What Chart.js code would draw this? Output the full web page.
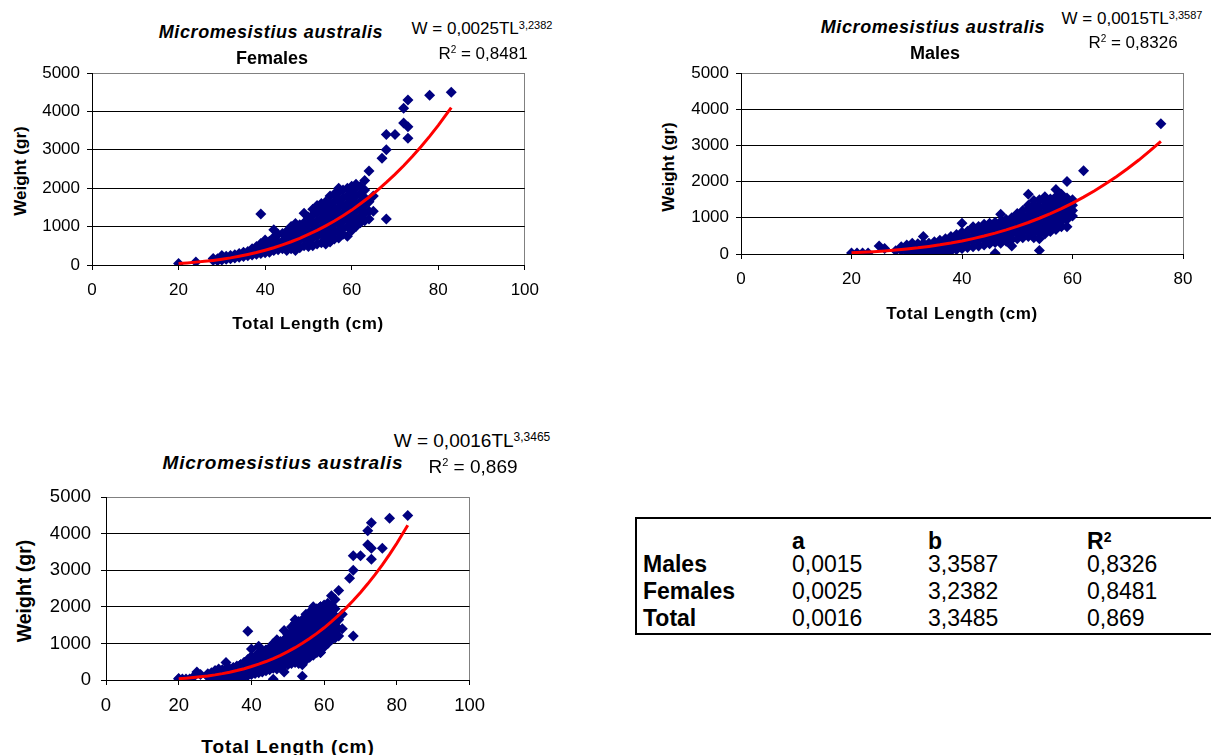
<!DOCTYPE html>
<html>
<head>
<meta charset="utf-8">
<script src="https://cdn.jsdelivr.net/npm/chart.js@4.4.1/dist/chart.umd.min.js"></script>
<style>
  body { margin: 0; width: 1211px; height: 755px; overflow: hidden; background: #fff; position: relative;
         font-family: 'Liberation Sans', Arial, sans-serif; color: #000; }
  canvas { position: absolute; }
  .lbl { position: absolute; transform: translate(-50%, -50%); white-space: nowrap; line-height: 1; }
  .yt { transform: translate(-50%, -50%) rotate(-90deg); font-weight: bold; }
  .b { font-weight: bold; }
  .bi { font-weight: bold; font-style: italic; }
  .sup { vertical-align: top; line-height: 1; }
  #coef { position: absolute; left: 635px; top: 517px; width: 600px; height: 118px; box-sizing: border-box;
          border: 2px solid #000; border-right: none; }
  .cell { position: absolute; transform: translateY(-50%); line-height: 1; font-size: 23px; white-space: nowrap; }
</style>
</head>
<body>

<!-- Females -->
<canvas id="females"></canvas>
<div class="lbl bi" style="left:271px;top:32px;font-size:18px;letter-spacing:0.6px">Micromesistius australis</div>
<div class="lbl b" style="left:272px;top:58px;font-size:18px">Females</div>
<div class="lbl" style="left:482px;top:28px;font-size:17px">W = 0,0025TL<span class="sup" style="font-size:11px">3,2382</span></div>
<div class="lbl" style="left:483px;top:53px;font-size:17px">R<span class="sup" style="font-size:10px">2</span> = 0,8481</div>
<div class="lbl yt" style="left:20px;top:171px;font-size:17px">Weight (gr)</div>
<div class="lbl b" style="left:308px;top:323px;font-size:17px;letter-spacing:0.6px">Total Length (cm)</div>

<!-- Males -->
<canvas id="males"></canvas>
<div class="lbl bi" style="left:933px;top:27px;font-size:18px;letter-spacing:0.6px">Micromesistius australis</div>
<div class="lbl b" style="left:935px;top:53px;font-size:18px">Males</div>
<div class="lbl" style="left:1132px;top:18px;font-size:17px">W = 0,0015TL<span class="sup" style="font-size:11px">3,3587</span></div>
<div class="lbl" style="left:1133px;top:42px;font-size:17px">R<span class="sup" style="font-size:10px">2</span> = 0,8326</div>
<div class="lbl yt" style="left:668px;top:167px;font-size:17px">Weight (gr)</div>
<div class="lbl b" style="left:962px;top:313px;font-size:17px;letter-spacing:0.6px">Total Length (cm)</div>

<!-- Both sexes -->
<canvas id="total"></canvas>
<div class="lbl bi" style="left:283px;top:462px;font-size:19px;letter-spacing:0.8px">Micromesistius australis</div>
<div class="lbl" style="left:472px;top:440px;font-size:19px">W = 0,0016TL<span class="sup" style="font-size:12px">3,3465</span></div>
<div class="lbl" style="left:473px;top:466px;font-size:19px">R<span class="sup" style="font-size:11px">2</span> = 0,869</div>
<div class="lbl yt" style="left:25px;top:591px;font-size:19.5px">Weight (gr)</div>
<div class="lbl b" style="left:288px;top:746px;font-size:19px;letter-spacing:0.9px">Total Length (cm)</div>

<div id="coef"></div>

<script>
// length (cm), weight (g)
const femalePoints = [
  [20, 40], [24, 80],
  [28, 120], [28, 170], [29, 110], [29, 160],
  [30, 130], [30, 200], [30, 250], [31, 150], [31, 230],
  [32, 160], [32, 250], [33, 180], [33, 270], [34, 200], [34, 300],
  [35, 220], [35, 330], [36, 240], [36, 350], [37, 260], [37, 380], [37, 420],
  [38, 280], [38, 400], [38, 480], [39, 300], [39, 450], [39, 560], [39, 1330],
  [40, 320], [40, 420], [40, 550], [40, 650], [41, 330], [41, 480], [41, 620],
  [42, 380], [42, 550], [42, 720], [42, 920], [43, 400], [43, 600], [43, 800],
  [44, 420], [44, 620], [44, 820], [45, 380], [45, 550], [45, 750], [45, 880],
  [46, 420], [46, 620], [46, 820], [46, 1000], [47, 380], [47, 550], [47, 750], [47, 950], [47, 1080],
  [48, 450], [48, 650], [48, 850], [48, 1050], [49, 500], [49, 700], [49, 900], [49, 1100], [49, 1350],
  [50, 480], [50, 650], [50, 850], [50, 1050], [50, 1250],
  [51, 500], [51, 700], [51, 900], [51, 1100], [51, 1300], [51, 1450],
  [52, 550], [52, 750], [52, 950], [52, 1150], [52, 1350], [52, 1550],
  [53, 580], [53, 800], [53, 1000], [53, 1200], [53, 1400], [53, 1600],
  [54, 550], [54, 700], [54, 900], [54, 1100], [54, 1300], [54, 1500], [54, 1650],
  [55, 600], [55, 800], [55, 1000], [55, 1200], [55, 1400], [55, 1600], [55, 1800],
  [56, 680], [56, 850], [56, 1050], [56, 1250], [56, 1450], [56, 1650], [56, 1850],
  [57, 700], [57, 900], [57, 1100], [57, 1300], [57, 1500], [57, 1700], [57, 1900], [57, 2000],
  [58, 800], [58, 950], [58, 1150], [58, 1350], [58, 1550], [58, 1750], [58, 1950],
  [59, 750], [59, 1000], [59, 1200], [59, 1400], [59, 1600], [59, 1800], [59, 2000],
  [60, 900], [60, 1100], [60, 1300], [60, 1500], [60, 1700], [60, 1900], [60, 2050],
  [61, 1000], [61, 1200], [61, 1400], [61, 1600], [61, 1800], [61, 2000], [61, 2100],
  [62, 1100], [62, 1250], [62, 1450], [62, 1650], [62, 1850], [62, 2050],
  [63, 1150], [63, 1350], [63, 1550], [63, 1750], [63, 1950], [63, 2200],
  [64, 1200], [64, 1400], [64, 1650], [64, 2450],
  [65, 1400], [65, 1800],
  [67, 2780], [68, 1200], [68, 3000], [68, 3400], [70, 3400],
  [72, 3700], [72, 4080], [73, 3300], [73, 3600], [73, 4300],
  [78, 4420], [83, 4500]
];

const malePoints = [
  [20, 30], [21, 30], [22, 30], [23, 30],
  [25, 220], [26, 150], [28, 90],
  [29, 100], [29, 200], [30, 60], [30, 160], [30, 250],
  [31, 60], [31, 170], [31, 300], [32, 60], [32, 170], [32, 280],
  [33, 60], [33, 180], [33, 300], [33, 480], [34, 60], [34, 180], [34, 300],
  [35, 60], [35, 200], [35, 340], [36, 60], [36, 200], [36, 340], [36, 380],
  [37, 60], [37, 200], [37, 330], [37, 420], [38, 80], [38, 220], [38, 360], [38, 480],
  [39, 120], [39, 260], [39, 400], [39, 540],
  [40, 150], [40, 300], [40, 450], [40, 600], [40, 850],
  [41, 180], [41, 330], [41, 480], [41, 630],
  [42, 200], [42, 350], [42, 500], [42, 650], [42, 750],
  [43, 220], [43, 380], [43, 530], [43, 680], [43, 760],
  [44, 250], [44, 400], [44, 550], [44, 700], [44, 820],
  [45, 280], [45, 430], [45, 580], [45, 730], [45, 850],
  [46, 20], [46, 320], [46, 470], [46, 620], [46, 770], [46, 880],
  [47, 300], [47, 450], [47, 600], [47, 750], [47, 900], [47, 1100],
  [48, 350], [48, 500], [48, 650], [48, 800], [48, 950],
  [49, 220], [49, 400], [49, 550], [49, 700], [49, 850], [49, 1000],
  [50, 420], [50, 570], [50, 720], [50, 870], [50, 1020], [50, 1120],
  [51, 450], [51, 600], [51, 750], [51, 900], [51, 1050], [51, 1200],
  [52, 480], [52, 630], [52, 780], [52, 930], [52, 1080], [52, 1230], [52, 1350], [52, 1650],
  [53, 450], [53, 600], [53, 750], [53, 900], [53, 1050], [53, 1200], [53, 1350], [53, 1480],
  [54, 100], [54, 420], [54, 570], [54, 720], [54, 870], [54, 1020], [54, 1170], [54, 1320], [54, 1500],
  [55, 550], [55, 700], [55, 850], [55, 1000], [55, 1150], [55, 1300], [55, 1450], [55, 1580],
  [56, 620], [56, 770], [56, 920], [56, 1070], [56, 1220], [56, 1370], [56, 1520],
  [57, 680], [57, 830], [57, 980], [57, 1130], [57, 1280], [57, 1430], [57, 1580], [57, 1780],
  [58, 750], [58, 900], [58, 1050], [58, 1200], [58, 1350], [58, 1500], [58, 1650],
  [59, 750], [59, 950], [59, 1100], [59, 1250], [59, 1400], [59, 1550], [59, 2000],
  [60, 1050], [60, 1200], [60, 1350], [60, 1500],
  [62, 2300], [76, 3600]
];

// fitted curves (red lines)
const femaleFitLength = [20, 22, 24, 26, 28, 30, 32, 34, 36, 38, 40, 42, 44, 46, 48, 50, 52, 54, 56, 58, 60, 62, 64, 66, 68, 70, 72, 74, 76, 78, 80, 83];
const femaleFitWeight = [40, 55, 75, 95, 120, 150, 185, 230, 275, 325, 385, 450, 525, 605, 695, 795, 900, 1020, 1145, 1285, 1430, 1595, 1765, 1950, 2150, 2360, 2585, 2825, 3080, 3350, 3635, 4100];

const maleFitLength = [20, 22, 24, 26, 28, 30, 32, 34, 36, 38, 40, 42, 44, 46, 48, 50, 52, 54, 56, 58, 60, 62, 64, 66, 68, 70, 72, 74, 76];
const maleFitWeight = [35, 48, 65, 85, 110, 137, 170, 210, 253, 303, 360, 425, 496, 576, 665, 762, 870, 988, 1116, 1256, 1407, 1571, 1748, 1938, 2142, 2361, 2595, 2846, 3110];

const totalFitLength = [20, 22, 24, 26, 28, 30, 32, 34, 36, 38, 40, 42, 44, 46, 48, 50, 52, 54, 56, 58, 60, 62, 64, 66, 68, 70, 72, 74, 76, 78, 80, 83];
const totalFitWeight = [36, 50, 67, 87, 111, 140, 174, 213, 258, 309, 368, 433, 505, 586, 676, 775, 884, 1003, 1133, 1274, 1427, 1593, 1771, 1965, 2171, 2392, 2629, 2880, 3149, 3435, 3739, 4230];

// coefficient table
const groups = ['Males', 'Females', 'Total'];
const coefA = [0.0015, 0.0025, 0.0016];
const coefB = [3.3587, 3.2382, 3.3485];
const coefR2 = [0.8326, 0.8481, 0.869];

const FONT = "'Liberation Sans', Arial, sans-serif";

function drawPanel(id, points, fitLength, fitWeight, xMax, area, tickSize, pad) {
  const L = 60, T = 20, R = 24, B = 50;
  const canvas = document.getElementById(id);
  canvas.width = area.right - area.left + L + R;
  canvas.height = area.bottom - area.top + T + B;
  canvas.style.left = (area.left - L) + 'px';
  canvas.style.top = (area.top - T) + 'px';

  new Chart(canvas, {
    type: 'scatter',
    data: {
      datasets: [
        {
          data: fitLength.map((x, i) => ({ x: x, y: fitWeight[i] })),
          showLine: true,
          borderColor: '#ff0000',
          borderWidth: 3,
          pointRadius: 0
        },
        {
          data: points.map(p => ({ x: p[0], y: p[1] })),
          pointStyle: 'rectRot',
          pointRadius: 5.5,
          backgroundColor: '#000080',
          borderColor: '#000080',
          borderWidth: 0
        }
      ]
    },
    options: {
      responsive: false,
      animation: false,
      events: [],
      layout: { padding: { left: 0, top: T, right: R, bottom: 0 } },
      plugins: { legend: { display: false }, tooltip: { enabled: false } },
      scales: {
        x: {
          type: 'linear',
          min: 0,
          max: xMax,
          afterFit: s => { s.height = B; },
          ticks: { stepSize: 20, padding: pad.x, color: '#000', font: { family: FONT, size: tickSize },
                   callback: v => String(v) },
          grid: {
            color: c => (c.tick && c.tick.value === xMax) ? '#808080' : 'rgba(0,0,0,0)',
            tickColor: '#000',
            tickLength: 5
          },
          border: { color: '#000', width: 1 }
        },
        y: {
          min: 0,
          max: 5000,
          afterFit: s => { s.width = L; },
          ticks: { stepSize: 1000, padding: pad.y, color: '#000', font: { family: FONT, size: tickSize },
                   callback: v => String(v) },
          grid: {
            color: c => (c.tick && c.tick.value === 5000) ? '#808080' : '#000',
            tickColor: '#000',
            tickLength: 5
          },
          border: { color: '#000', width: 1 }
        }
      }
    }
  });
}

drawPanel('females', femalePoints, femaleFitLength, femaleFitWeight, 100,
  { left: 92, top: 73, right: 525, bottom: 265 }, 17, { x: 10, y: 7 });
drawPanel('males', malePoints, maleFitLength, maleFitWeight, 80,
  { left: 741, top: 73, right: 1183, bottom: 254 }, 17, { x: 10, y: 7 });
drawPanel('total', femalePoints.concat(malePoints), totalFitLength, totalFitWeight, 100,
  { left: 106, top: 496, right: 471, bottom: 680 }, 18.5, { x: 10, y: 10 });

// table of a, b and R2
const box = document.getElementById('coef');
const colX = [6, 155, 291, 450];
const rowY = [22, 45, 72, 99];
function cell(text, col, row, bold) {
  const d = document.createElement('div');
  d.className = 'cell';
  d.style.left = colX[col] + 'px';
  d.style.top = rowY[row] + 'px';
  if (bold) d.style.fontWeight = 'bold';
  d.innerHTML = text;
  box.appendChild(d);
}
const fmt = v => String(v).replace('.', ',');
cell('a', 1, 0, true);
cell('b', 2, 0, true);
cell('R<span class="sup" style="font-size:14px">2</span>', 3, 0, true);
groups.forEach((g, i) => {
  cell(g, 0, i + 1, true);
  cell(fmt(coefA[i]), 1, i + 1);
  cell(fmt(coefB[i]), 2, i + 1);
  cell(fmt(coefR2[i]), 3, i + 1);
});
</script>
</body>
</html>
